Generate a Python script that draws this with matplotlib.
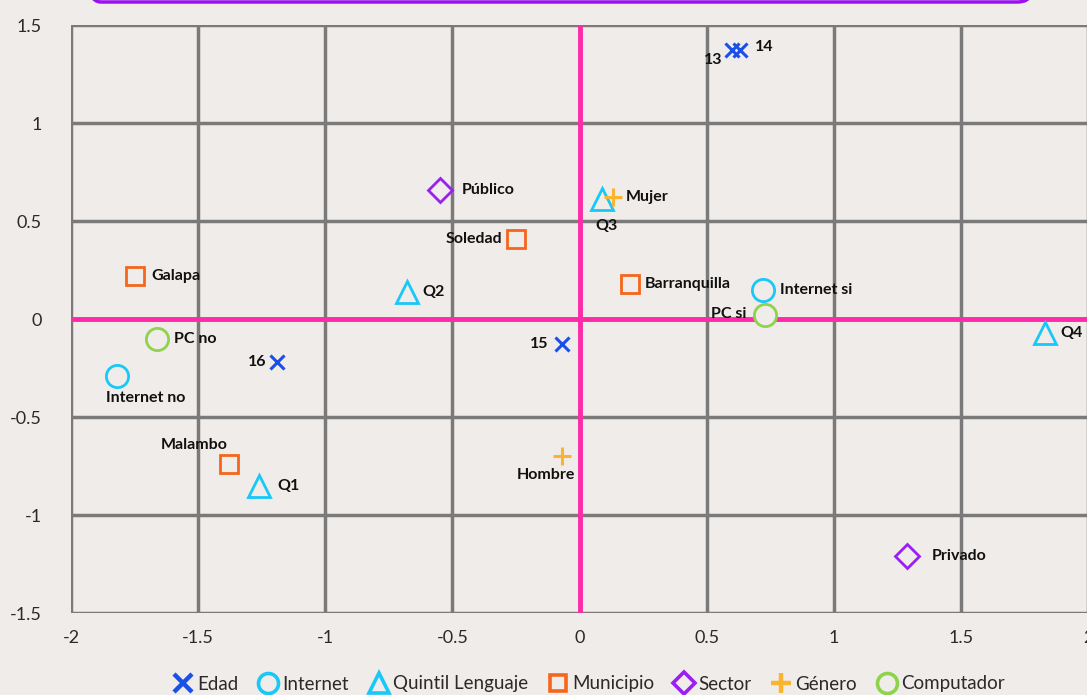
import numpy as np
import matplotlib.pyplot as plt
from matplotlib.patches import FancyBboxPatch

plt.rcParams["font.family"] = ["Lato", "DejaVu Sans"]

# --- data ------------------------------------------------------------------
edad_lbl = ["13", "14", "15", "16"]
edad_x = [0.60, 0.63, -0.07, -1.19]
edad_y = [1.37, 1.37, -0.13, -0.22]

internet_lbl = ["Internet si", "Internet no"]
internet_x = [0.72, -1.82]
internet_y = [0.15, -0.29]

quintil_lbl = ["Q1", "Q2", "Q3", "Q4"]
quintil_x = [-1.26, -0.68, 0.09, 1.83]
quintil_y = [-0.85, 0.14, 0.61, -0.07]

muni_lbl = ["Galapa", "Soledad", "Barranquilla", "Malambo"]
muni_x = [-1.75, -0.25, 0.20, -1.38]
muni_y = [0.22, 0.41, 0.18, -0.74]

sector_lbl = ["Público", "Privado"]
sector_x = [-0.55, 1.29]
sector_y = [0.66, -1.21]

genero_lbl = ["Mujer", "Hombre"]
genero_x = [0.13, -0.07]
genero_y = [0.62, -0.70]

pc_lbl = ["PC si", "PC no"]
pc_x = [0.73, -1.66]
pc_y = [0.02, -0.10]

# label offsets in pixels (dx, dy, ha)
offsets = {
    "13": (-10, -10, "right"), "14": (15, 3, "left"), "15": (-13, 0, "right"),
    "16": (-10, 0, "right"),
    "Internet si": (17, 0, "left"), "Internet no": (-11, -22, "left"),
    "Q1": (18, 0, "left"), "Q2": (16, 0, "left"), "Q3": (4, -27, "center"),
    "Q4": (16, 0, "left"),
    "Galapa": (17, 0, "left"), "Soledad": (-14, 0, "right"),
    "Barranquilla": (14, 0, "left"), "Malambo": (-34, 19, "center"),
    "Público": (22, 0, "left"), "Privado": (24, 0, "left"),
    "Mujer": (13, 0, "left"), "Hombre": (-16, -19, "center"),
    "PC si": (-19, 1, "right"), "PC no": (17, 0, "left"),
}

bg = "#f0ece9"
fig = plt.figure(figsize=(10.87, 6.95), dpi=100, facecolor=bg)
ax = fig.add_axes([71 / 1087, 1 - 613 / 695, (1088 - 71) / 1087, (613 - 25) / 695])
ax.set_facecolor(bg)

# purple box edge peeking at top
box = FancyBboxPatch((88 / 1087, 1 - 2 / 695), (1030 - 88) / 1087, 0.05,
                     boxstyle="round,pad=0,rounding_size=0.012",
                     transform=fig.transFigure, facecolor="none",
                     edgecolor="#9b10f0", linewidth=2.5, clip_on=False)
fig.patches.append(box)

ax.set_xlim(-2, 2)
ax.set_ylim(-1.5, 1.5)
ax.set_xticks([-2, -1.5, -1, -0.5, 0, 0.5, 1, 1.5, 2])
ax.set_xticklabels(["-2", "-1.5", "-1", "-0.5", "0", "0.5", "1", "1.5", "2"])
ax.set_yticks([-1.5, -1, -0.5, 0, 0.5, 1, 1.5])
ax.set_yticklabels(["-1.5", "-1", "-0.5", "0", "0.5", "1", "1.5"])
ax.grid(True, color="#7a7a7a", linewidth=2.5, zorder=1)
ax.set_axisbelow(True)
for s in ax.spines.values():
    s.set_visible(False)
ax.tick_params(length=0, labelsize=13, colors="#2a2a2a", pad=12)
ax.tick_params(axis="y", pad=21)

ax.axhline(0, color="#ff2aa8", linewidth=3.5, zorder=2)
ax.axvline(0, color="#ff2aa8", linewidth=3.5, zorder=2)

series = [
    ("Edad", edad_x, edad_y, edad_lbl, dict(marker="x", ms=10, mew=2.2, color="#1a4fe8")),
    ("Internet", internet_x, internet_y, internet_lbl, dict(marker="o", ms=16, mew=2, color="#18c8f8", mfc=bg)),
    ("Quintil Lenguaje", quintil_x, quintil_y, quintil_lbl, dict(marker="^", ms=16, mew=2, color="#18c8f8", mfc=bg)),
    ("Municipio", muni_x, muni_y, muni_lbl, dict(marker="s", ms=13, mew=2, color="#f5661c", mfc=bg)),
    ("Sector", sector_x, sector_y, sector_lbl, dict(marker="D", ms=12.5, mew=2, color="#9b1ef2", mfc=bg)),
    ("Género", genero_x, genero_y, genero_lbl, dict(marker="+", ms=13, mew=2.2, color="#fbb430")),
    ("Computador", pc_x, pc_y, pc_lbl, dict(marker="o", ms=16, mew=2, color="#8ed24e", mfc=bg)),
]

for name, xs, ys, lbls, st in series:
    ax.plot(xs, ys, linestyle="none", label=name, zorder=4, **st)
    for x, y, l in zip(xs, ys, lbls):
        dx, dy, ha = offsets[l]
        ax.annotate(l, (x, y), xytext=(dx, dy), textcoords="offset pixels",
                    ha=ha, va="center", fontsize=11.5, fontweight="bold",
                    color="#111111", zorder=5)

leg = ax.legend(loc="center", bbox_to_anchor=(588 / 1087, 1 - 684 / 695),
                bbox_transform=fig.transFigure, ncol=7, frameon=False,
                fontsize=13.5, handletextpad=0.15, columnspacing=1.0,
                markerscale=0.9, handlelength=1.2)
for h in leg.legend_handles:
    h.set_markeredgewidth(2.6)
leg.legend_handles[0].set_markersize(13)
leg.legend_handles[0].set_markeredgewidth(3.2)
leg.legend_handles[5].set_markersize(14)
leg.legend_handles[5].set_markeredgewidth(3.2)
for t in leg.get_texts():
    t.set_color("#2a2a2a")

fig.savefig("out.png", dpi=100, facecolor=bg)
